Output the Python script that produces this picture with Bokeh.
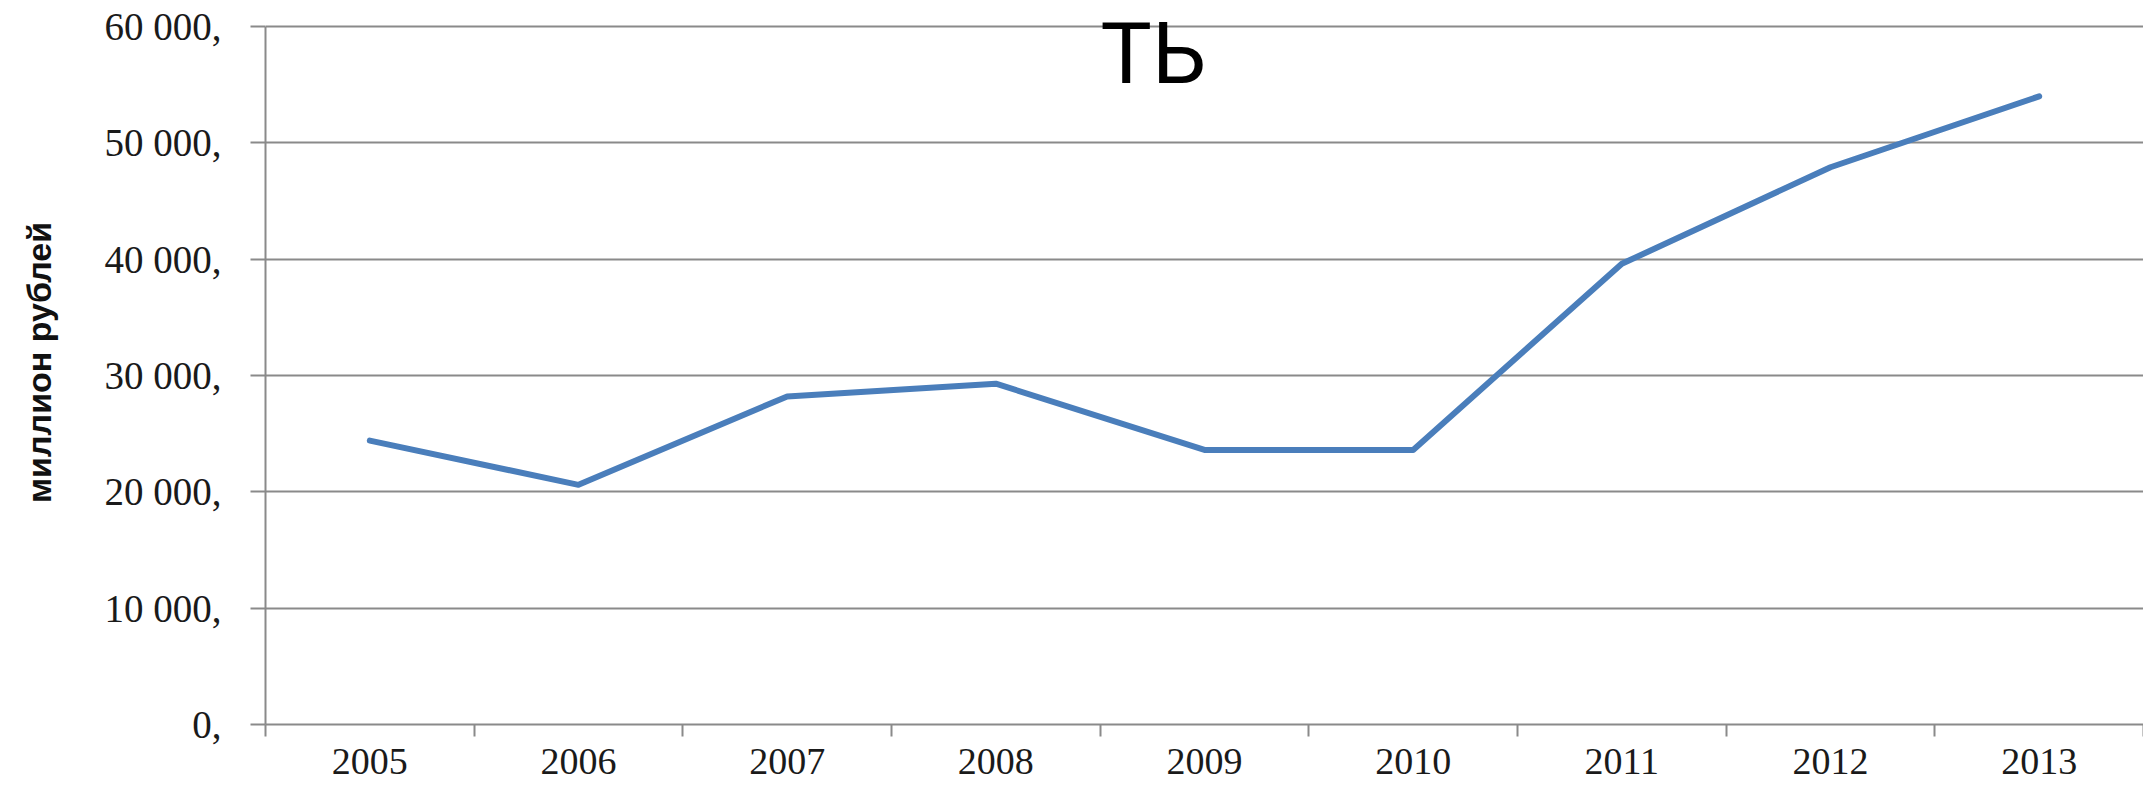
from bokeh.plotting import figure
from bokeh.models import FixedTicker, Range1d, Label, ColumnDataSource
from bokeh.embed import file_html
from bokeh.resources import INLINE

# ---- data ----
years = ["2005", "2006", "2007", "2008", "2009", "2010", "2011", "2012", "2013"]
values = [24400, 20600, 28200, 29300, 23600, 23600, 39600, 47900, 54000]
y_ticks = [0, 10000, 20000, 30000, 40000, 50000, 60000]
y_tick_labels = ["0,", "10 000,", "20 000,", "30 000,", "40 000,", "50 000,", "60 000,"]
y_title = "миллион рублей"
chart_title = "ТЬ"

# category positions (centers) and boundaries
centers = [i + 0.5 for i in range(len(years))]
bounds = [float(i) for i in range(len(years) + 1)]

src = ColumnDataSource(dict(x=centers, y=values))

# frame spans the full height above the axis so the overlaid title is not clipped;
# the top gridline (60 000) sits 26px below the frame top
frame_h = 782 - 58
y_max = y_ticks[-1] * frame_h / (frame_h - 26)

p = figure(width=2143, height=782, output_backend="svg", toolbar_location=None,
           x_range=Range1d(0, len(years)), y_range=Range1d(0, y_max),
           min_border_left=265, min_border_right=0, min_border_top=0,
           min_border_bottom=58)
p.outline_line_color = None
p.background_fill_color = "white"
p.border_fill_color = "white"

p.line("x", "y", source=src, line_color="#4A7EBB", line_width=6,
       line_join="round", line_cap="round")

# grid
p.xgrid.grid_line_color = None
p.ygrid.ticker = FixedTicker(ticks=y_ticks)
p.ygrid.grid_line_color = "#8a8a8a"
p.ygrid.grid_line_width = 2

# x axis
xa = p.xaxis[0]
xa.ticker = FixedTicker(ticks=centers, minor_ticks=bounds)
xa.major_label_overrides = {c: y for c, y in zip(centers, years)}
xa.major_tick_out = 0
xa.major_tick_in = 0
xa.minor_tick_out = 12
xa.minor_tick_in = 0
xa.minor_tick_line_color = "#8a8a8a"
xa.minor_tick_line_width = 2
xa.axis_line_color = "#8a8a8a"
xa.axis_line_width = 2
xa.major_label_text_font = "Liberation Serif"
xa.major_label_text_font_size = "38px"
xa.major_label_text_color = "#1a1a1a"
xa.major_label_standoff = 12

# y axis
ya = p.yaxis[0]
ya.bounds = (y_ticks[0], y_ticks[-1])
ya.ticker = FixedTicker(ticks=y_ticks)
ya.major_label_overrides = {t: l for t, l in zip(y_ticks, y_tick_labels)}
ya.major_tick_out = 15
ya.major_tick_in = 0
ya.minor_tick_out = 0
ya.minor_tick_in = 0
ya.major_tick_line_color = "#8a8a8a"
ya.major_tick_line_width = 2
ya.axis_line_color = "#8a8a8a"
ya.axis_line_width = 2
ya.major_label_text_font = "Liberation Serif"
ya.major_label_text_font_size = "39px"
ya.major_label_text_color = "#1a1a1a"
ya.major_label_standoff = 29
ya.axis_label = y_title
ya.axis_label_text_font = "Liberation Sans"
ya.axis_label_text_font_style = "bold"
ya.axis_label_text_font_size = "34px"
ya.axis_label_text_color = "#111111"
ya.axis_label_standoff = 44

# overlaid title
p.add_layout(Label(x=4.255, y=57650, text=chart_title, text_align="center",
                   text_baseline="alphabetic", text_font="Roboto",
                   text_font_size="86px", text_color="black"))

open("out.html", "w").write(file_html(p, INLINE))
